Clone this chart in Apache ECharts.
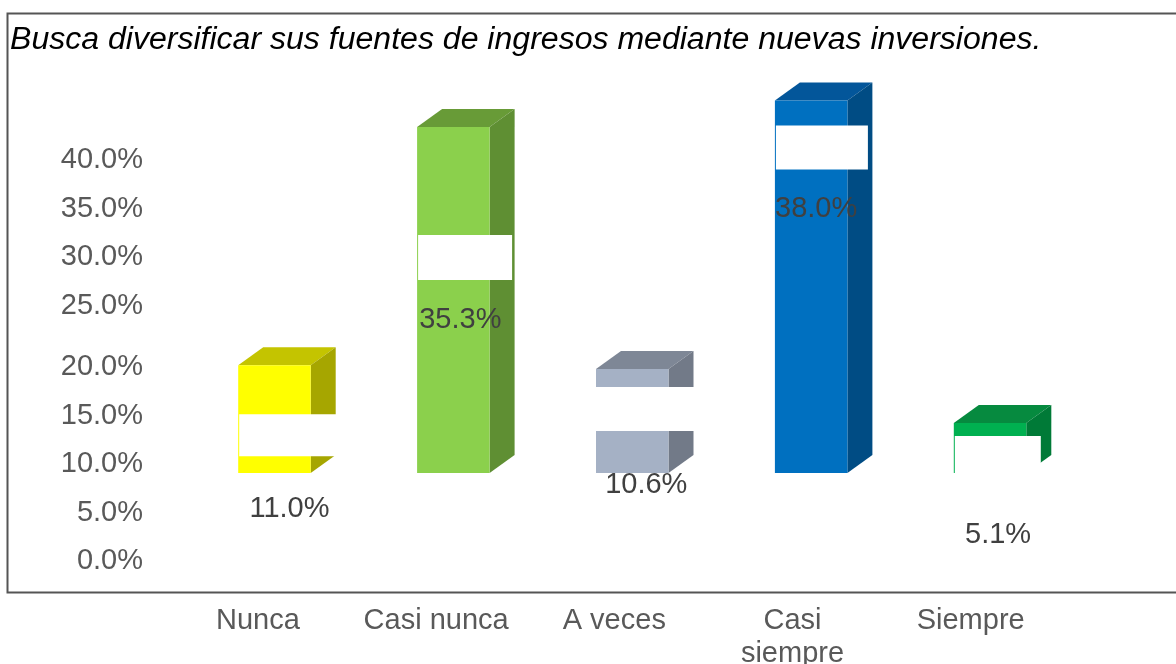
<!DOCTYPE html>
<html>
<head>
<meta charset="utf-8">
<style>html,body{margin:0;padding:0;background:#fff}#c{width:1176px;height:664px}</style>
<script src="https://cdn.jsdelivr.net/npm/echarts@6/dist/echarts.min.js"></script>
</head>
<body>
<div id="c"></div>
<script>
const titleText = 'Busca diversificar sus fuentes de ingresos mediante nuevas inversiones.';
const categories = ['Nunca', 'Casi nunca', 'A veces', 'Casi\nsiempre', 'Siempre'];
const values = [11.0, 35.3, 10.6, 38.0, 5.1];
const frontColors = ['#FFFF00', '#8BD04C', '#A5B1C5', '#0070C0', '#00B050'];
const sideColors = ['#A6A600', '#5F8F33', '#727A88', '#004C84', '#007A37'];
const topColors = ['#C4C400', '#689B37', '#7E8796', '#03569A', '#068A3F'];
// [left inset, offset below bar top, width, height] of each white label patch
const patches = [[1, 49, 99, 42], [1, 108, 94, 45], [0, 18, 98, 44], [1, 25, 92, 44], [1, 13, 86, 44]];
// [dx from front centre, dy from bar top] of each value label
const labelOffsets = [[15, 144], [7, 193], [14, 116], [5, 108], [8, 112]];
const FONT = '"Liberation Sans", Arial, sans-serif';
const FRONT_W = 72.5, DEPTH_X = 25, DEPTH_Y = 18;

function renderBar(params, api) {
  const i = api.value(0);
  const v = api.value(1);
  const top = api.coord([i, v]);
  const base = api.coord([i, 0]);
  const x0 = top[0] - FRONT_W / 2, x1 = x0 + FRONT_W, yt = top[1], yb = base[1];
  const p = patches[i], l = labelOffsets[i];
  const poly = (pts, fill) => ({type: 'polygon', shape: {points: pts}, style: {fill}});
  const kids = [
    poly([[x0, yt], [x1, yt], [x1 + DEPTH_X, yt - DEPTH_Y], [x0 + DEPTH_X, yt - DEPTH_Y]], topColors[i]),
    poly([[x1, yt], [x1 + DEPTH_X, yt - DEPTH_Y], [x1 + DEPTH_X, yb - DEPTH_Y], [x1, yb]], sideColors[i]),
    {type: 'rect', shape: {x: x0, y: yt, width: FRONT_W, height: yb - yt}, style: {fill: frontColors[i]}},
    {type: 'rect', shape: {x: x0 + p[0], y: yt + p[1], width: p[2], height: p[3]}, style: {fill: '#FFFFFF'}},
    {type: 'text', style: {
      x: x0 + FRONT_W / 2 + l[0], y: yt + l[1], text: v.toFixed(1) + '%',
      align: 'center', verticalAlign: 'middle', fill: '#404040',
      font: '29px ' + FONT
    }}
  ];
  return {type: 'group', children: kids};
}

const pctLabel = {
  color: '#595959', fontSize: 29, fontFamily: FONT, margin: 0,
  formatter: v => v.toFixed(1) + '%'
};
const hiddenX = g => ({type: 'value', gridIndex: g, show: false});
const tickAxis = (g, min, max) => ({
  type: 'value', gridIndex: g, min, max, interval: 5,
  axisLine: {show: false}, axisTick: {show: false}, splitLine: {show: false},
  axisLabel: pctLabel
});

const option = {
  backgroundColor: '#ffffff',
  animation: false,
  title: {
    text: titleText, left: 10, top: 24, padding: 0,
    textStyle: {color: '#000', fontStyle: 'italic', fontWeight: 'normal', fontSize: 32.06, fontFamily: FONT}
  },
  graphic: [{
    type: 'polyline', z: -1, silent: true,
    shape: {points: [[1176, 13.5], [7.5, 13.5], [7.5, 592.5], [1176, 592.5]]},
    style: {fill: 'none', stroke: '#555555', lineWidth: 2}
  }],
  grid: [
    {left: 185, top: 81, width: 894.5, height: 392, outerBoundsMode: 'none'},
    {left: 143, top: 367, width: 10, height: 194, outerBoundsMode: 'none'},
    {left: 143, top: 160, width: 10, height: 146, outerBoundsMode: 'none'},
    {left: 168.8, top: 81, width: 891, height: 392, outerBoundsMode: 'none'}
  ],
  xAxis: [
    {type: 'category', gridIndex: 0, data: categories, show: false},
    hiddenX(1), hiddenX(2),
    {
      type: 'category', gridIndex: 3, data: categories,
      axisLine: {show: false}, axisTick: {show: false},
      axisLabel: {color: '#595959', fontSize: 29, fontFamily: FONT, margin: 131, lineHeight: 33, interval: 0}
    }
  ],
  yAxis: [
    {type: 'value', gridIndex: 0, min: 0, max: 40, show: false},
    tickAxis(1, 0, 20),
    tickAxis(2, 25, 40),
    {type: 'value', gridIndex: 3, show: false}
  ],
  series: [{
    type: 'custom', xAxisIndex: 0, yAxisIndex: 0, clip: false,
    renderItem: renderBar,
    encode: {x: 0, y: 1},
    data: values.map((v, i) => [i, v])
  }]
};
echarts.init(document.getElementById('c')).setOption(option);
</script>
</body>
</html>
